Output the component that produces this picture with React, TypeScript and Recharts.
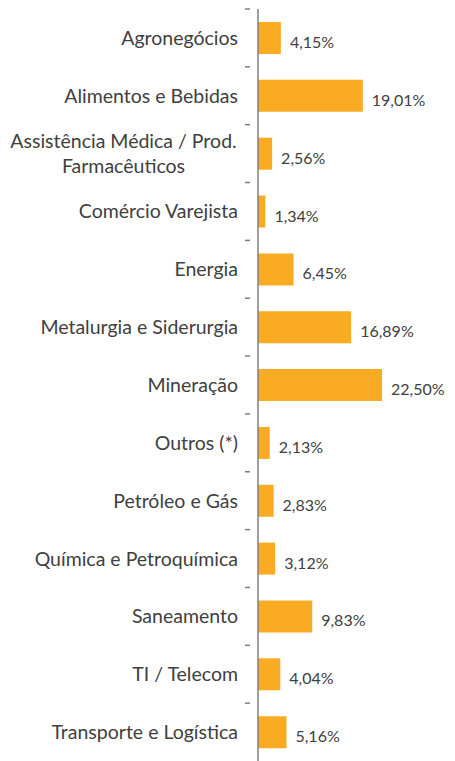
import { BarChart, Bar, XAxis, YAxis, LabelList } from 'recharts';

const categories = [
  'Agronegócios',
  'Alimentos e Bebidas',
  'Assistência Médica / Prod.|Farmacêuticos',
  'Comércio Varejista',
  'Energia',
  'Metalurgia e Siderurgia',
  'Mineração',
  'Outros (*)',
  'Petróleo e Gás',
  'Química e Petroquímica',
  'Saneamento',
  'TI / Telecom',
  'Transporte e Logística',
];

const shares = [4.15, 19.01, 2.56, 1.34, 6.45, 16.89, 22.5, 2.13, 2.83, 3.12, 9.83, 4.04, 5.16];

const data = categories.map((name, i) => ({ name, value: shares[i] }));

const TEXT = '#404040';
const FONT = 'Lato, "Open Sans", sans-serif';
const BAND = 752 / 13;

// rótulo da categoria, com quebra de linha e traço na divisa entre as faixas
const CategoryTick = ({ x, y, payload }: any) => {
  const lines = String(payload.value).split('|');
  const right = 238;
  const top = y - BAND / 2;
  const lineH = 25;
  const start = y - ((lines.length - 1) * lineH) / 2;
  return (
    <g>
      <line x1={x - 5} x2={x} y1={top} y2={top} stroke="#7f7f7f" strokeWidth={1.5} />
      {lines.map((l, i) => (
        <text
          key={i}
          x={lines.length > 1 ? 123.5 : right}
          y={start + i * lineH + 7}
          textAnchor={lines.length > 1 ? 'middle' : 'end'}
          fill={TEXT}
          fontSize={19.5}
          fontFamily={FONT}
        >
          {l}
        </text>
      ))}
    </g>
  );
};

const ValueLabel = ({ x, y, width, height, value }: any) => (
  <text
    x={x + width + 9}
    y={y + height / 2 + 10}
    fill={TEXT}
    fontSize={16}
    fontFamily={FONT}
  >
    {Number(value).toFixed(2).replace('.', ',')}%
  </text>
);

export default function App() {
  return (
    <div style={{ position: 'absolute', left: 0, top: 0, background: '#fff' }}>
      <BarChart
        width={455}
        height={761}
        data={data}
        layout="vertical"
        margin={{ top: 9, right: 4, left: 0, bottom: 0 }}
        barSize={32}
      >
        <XAxis type="number" domain={[0, 35]} hide />
        <YAxis
          type="category"
          dataKey="name"
          width={258}
          axisLine={{ stroke: '#7f7f7f', strokeWidth: 1.5 }}
          tickLine={false}
          tick={<CategoryTick />}
          interval={0}
        />
        <Bar dataKey="value" fill="#F9AB23" isAnimationActive={false}>
          <LabelList dataKey="value" content={<ValueLabel />} />
        </Bar>
      </BarChart>
    </div>
  );
}
